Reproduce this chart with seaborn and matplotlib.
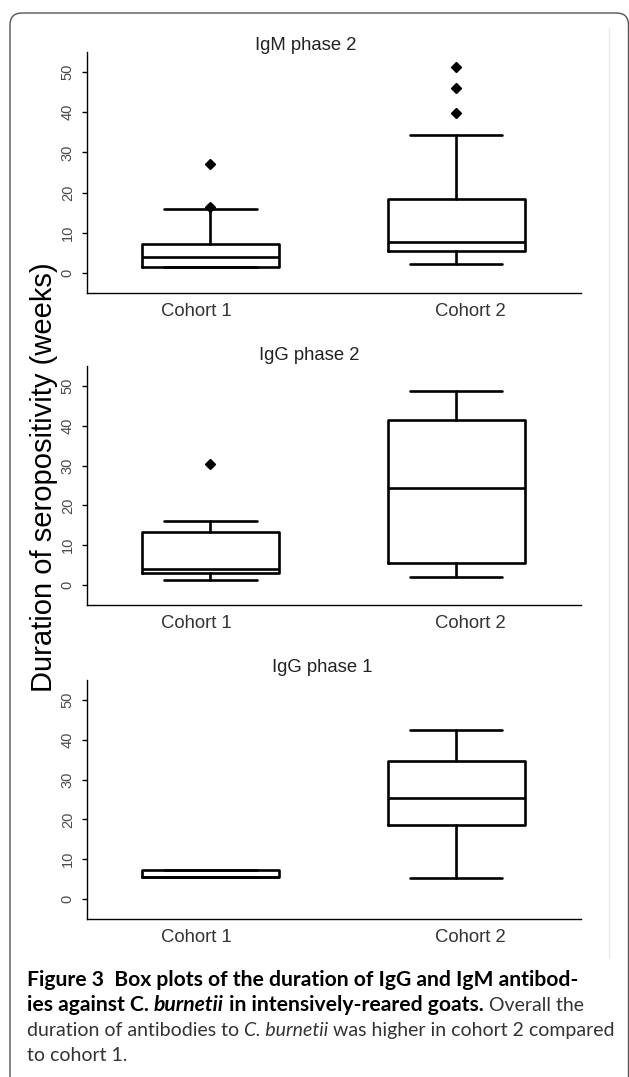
import matplotlib
matplotlib.use("Agg")
import matplotlib.pyplot as plt
import seaborn as sns
from matplotlib import font_manager
from matplotlib.patches import FancyBboxPatch
from matplotlib.lines import Line2D
from matplotlib.transforms import IdentityTransform

# --- data (weeks) ---
panels = ["IgM phase 2", "IgG phase 2", "IgG phase 1"]
cohorts = ["Cohort 1", "Cohort 2"]
# one row per panel, [cohort 1, cohort 2]
whislo = [[1.4, 2.3], [1.3, 2.1], [5.5, 5.2]]
q1 = [[1.4, 5.4], [3.1, 5.6], [5.5, 18.5]]
med = [[3.9, 7.7], [4.0, 24.3], [5.5, 25.5]]
q3 = [[7.1, 18.5], [13.4, 41.4], [7.3, 34.7]]
whishi = [[16.0, 34.3], [16.1, 48.7], [7.3, 42.5]]
fliers = [[[16.3, 27.1], [39.8, 46.1, 51.3]],
          [[30.4], []],
          [[], []]]
yticks = [0, 10, 20, 30, 40, 50]

sns.set_theme(style="ticks")
names = {f.name for f in font_manager.fontManager.ttflist}
narrow = "Liberation Sans Narrow" if "Liberation Sans Narrow" in names else "Liberation Sans"
label_size = 15.5 if narrow == "Liberation Sans Narrow" else 13.3
plt.rcParams["font.family"] = ["Liberation Sans", "DejaVu Sans"]

W, H = 629, 1077
fig = plt.figure(figsize=(W / 100, H / 100), dpi=100)
fig.patch.set_facecolor("white")

# axes boxes in pixels: (top of y axis, x axis line)
ax_tops = [52, 366, 680]
ax_bots = [293, 605, 919]
title_y = [46, 355, 668]
title_x = [306, 309, 322]
left_px, right_px = 86.7, 581

for i, name in enumerate(panels):
    ax = fig.add_axes([left_px / W, 1 - ax_bots[i] / H,
                       (right_px - left_px) / W, (ax_bots[i] - ax_tops[i]) / H])
    stats = []
    for j in range(2):
        stats.append(dict(whislo=whislo[i][j], q1=q1[i][j], med=med[i][j],
                          q3=q3[i][j], whishi=whishi[i][j], fliers=fliers[i][j]))
    lw = 1.9
    ax.bxp(stats, positions=[1, 2], widths=0.558, capwidths=0.375,
           showfliers=True, patch_artist=False,
           boxprops=dict(color="black", linewidth=lw),
           whiskerprops=dict(color="black", linewidth=lw, linestyle="-"),
           capprops=dict(color="black", linewidth=lw),
           medianprops=dict(color="black", linewidth=lw),
           flierprops=dict(marker="D", markerfacecolor="black",
                           markeredgecolor="black", markersize=5))
    ax.set_xlim(0.496, 2.509)
    ax.set_ylim(-5, 55)
    ax.set_yticks(yticks)
    ax.set_yticklabels([str(v) for v in yticks], rotation=90, va="center",
                       fontsize=10.5, color="#4a4a4a")
    ax.set_xticks([0.943, 2.057])
    ax.set_xticklabels(cohorts, fontsize=label_size, color="#333333", family=narrow)
    ax.tick_params(axis="x", length=0, pad=7)
    ax.tick_params(axis="y", length=3.6, width=1.0, color="black", pad=5)
    ax.set_facecolor("none")
    sns.despine(ax=ax)
    for side in ["left", "bottom"]:
        ax.spines[side].set_color("black")
        ax.spines[side].set_linewidth(1.0)
    fig.text(title_x[i] / W, 1 - title_y[i] / H, name, ha="center", va="center",
             fontsize=label_size, color="#222222", family=narrow)

fig.text(44 / W, 1 - 477 / H, "Duration of seropositivity (weeks)", rotation=90,
         ha="center", va="center", fontsize=21, color="black")

# rounded frame round the figure and the faint edge of the plot image
frame = FancyBboxPatch((10, -30), 618.5, H - 13 + 30,
                       boxstyle="round,pad=0,rounding_size=12",
                       transform=IdentityTransform(), facecolor="none",
                       edgecolor="#555555", linewidth=1.0)
fig.add_artist(frame)
fig.add_artist(Line2D([609 / W, 609 / W], [1 - 28 / H, 1 - 958 / H],
                      transform=fig.transFigure, color="#e6e6e6", linewidth=0.8))

# caption, drawn run by run so bold and italic parts can sit on one line
renderer = fig.canvas.get_renderer()
bold_size, reg_size = 15.2, 14.0


def runs_line(y_px, runs, x_px=27):
    for s, weight, style, color in runs:
        size = bold_size if weight == "bold" else reg_size
        t = fig.text(x_px / W, 1 - y_px / H, s, fontsize=size, fontweight=weight,
                     fontstyle=style, color=color, family=["Lato", "DejaVu Sans"],
                     ha="left", va="baseline")
        x_px += t.get_window_extent(renderer).width


B, R = "bold", "normal"
runs_line(986, [("Figure 3  Box plots of the duration of IgG and IgM antibod-", B, "normal", "black")])
runs_line(1011, [("ies against C. ", B, "normal", "black"),
                 ("burnetii", B, "italic", "black"),
                 (" in intensively-reared goats.", B, "normal", "black"),
                 (" Overall the", R, "normal", "#333333")])
runs_line(1036, [("duration of antibodies to ", R, "normal", "#333333"),
                 ("C. burnetii", R, "italic", "#333333"),
                 (" was higher in cohort 2 compared", R, "normal", "#333333")])
runs_line(1061, [("to cohort 1.", R, "normal", "#333333")])

fig.savefig("out.png", dpi=100)
